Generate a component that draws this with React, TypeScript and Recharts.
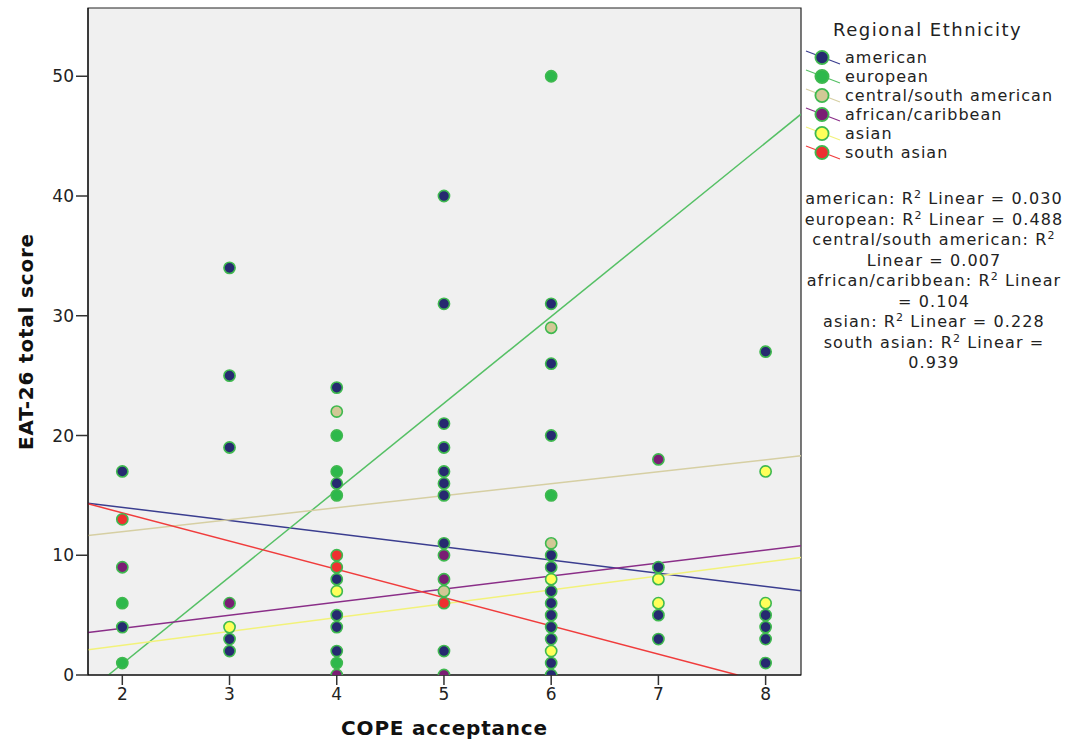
import {
  ComposedChart,
  Scatter,
  XAxis,
  YAxis,
  ReferenceArea,
  ReferenceLine,
} from 'recharts';

type Pt = { x: number; y: number };

// Visible points (COPE acceptance, EAT-26 total score)
const american: Pt[] = [
  { x: 2, y: 17 }, { x: 2, y: 4 },
  { x: 3, y: 34 }, { x: 3, y: 25 }, { x: 3, y: 19 }, { x: 3, y: 3 }, { x: 3, y: 2 },
  { x: 4, y: 24 }, { x: 4, y: 16 }, { x: 4, y: 8 }, { x: 4, y: 5 }, { x: 4, y: 4 }, { x: 4, y: 2 },
  { x: 5, y: 40 }, { x: 5, y: 31 }, { x: 5, y: 21 }, { x: 5, y: 19 }, { x: 5, y: 17 },
  { x: 5, y: 16 }, { x: 5, y: 15 }, { x: 5, y: 11 }, { x: 5, y: 2 },
  { x: 6, y: 31 }, { x: 6, y: 26 }, { x: 6, y: 20 }, { x: 6, y: 10 }, { x: 6, y: 9 },
  { x: 6, y: 7 }, { x: 6, y: 6 }, { x: 6, y: 5 }, { x: 6, y: 4 }, { x: 6, y: 3 },
  { x: 6, y: 1 }, { x: 6, y: 0 },
  { x: 7, y: 9 }, { x: 7, y: 5 }, { x: 7, y: 3 },
  { x: 8, y: 27 }, { x: 8, y: 5 }, { x: 8, y: 4 }, { x: 8, y: 3 }, { x: 8, y: 1 },
];
const european: Pt[] = [
  { x: 2, y: 6 }, { x: 2, y: 1 },
  { x: 4, y: 20 }, { x: 4, y: 17 }, { x: 4, y: 15 }, { x: 4, y: 1 },
  { x: 6, y: 50 }, { x: 6, y: 15 },
];
const centralSouthAmerican: Pt[] = [
  { x: 4, y: 22 }, { x: 5, y: 7 }, { x: 6, y: 29 }, { x: 6, y: 11 },
];
const africanCaribbean: Pt[] = [
  { x: 2, y: 9 }, { x: 3, y: 6 }, { x: 4, y: 0 }, { x: 5, y: 10 }, { x: 5, y: 8 },
  { x: 5, y: 0 }, { x: 7, y: 18 },
];
const asian: Pt[] = [
  { x: 3, y: 4 }, { x: 4, y: 7 }, { x: 6, y: 8 }, { x: 6, y: 2 }, { x: 7, y: 8 },
  { x: 7, y: 6 }, { x: 8, y: 17 }, { x: 8, y: 6 },
];
const southAsian: Pt[] = [
  { x: 2, y: 13 }, { x: 4, y: 10 }, { x: 4, y: 9 }, { x: 5, y: 6 },
];

const groupNames = [
  'american',
  'european',
  'central/south american',
  'african/caribbean',
  'asian',
  'south asian',
];
const groupData = [american, european, centralSouthAmerican, africanCaribbean, asian, southAsian];
// fit line intercept / slope
const fitIntercepts = [16.2, -13.56, 9.97, 1.72, 0.15, 18.26];
const fitSlopes = [-1.1, 7.25, 1.0, 1.09, 1.16, -2.36];
const rSquared = ['0.030', '0.488', '0.007', '0.104', '0.228', '0.939'];

const fillColors = ['#262a70', '#2db84b', '#d2c896', '#7a1e74', '#ffff5a', '#ee3030'];
const lineColors = ['#3a3d8f', '#55c065', '#d6cfa3', '#8a2e88', '#f2f27a', '#f03c3c'];
const OUTLINE = '#3fb94f';

const xTicks = [2, 3, 4, 5, 6, 7, 8];
const yTicks = [0, 10, 20, 30, 40, 50];
const X_MIN = 1.68;
const X_MAX = 8.33;
const Y_MAX = 55.7;

const FONT = '"DejaVu Sans", Verdana, sans-serif';

function fitSegment(a: number, b: number) {
  let x1 = X_MIN;
  let x2 = X_MAX;
  // clip to y >= 0
  if (a + b * x1 < 0) x1 = -a / b;
  if (a + b * x2 < 0) x2 = -a / b;
  return [
    { x: x1, y: a + b * x1 },
    { x: x2, y: a + b * x2 },
  ];
}

function Dot(color: string) {
  return (props: any) => (
    <circle cx={props.cx} cy={props.cy} r={5.6} fill={color} stroke={OUTLINE} strokeWidth={1.6} />
  );
}

function LegendPanel() {
  return (
    <div style={{ position: 'absolute', left: 804, top: 16, width: 266, fontFamily: FONT, color: '#222' }}>
      <div style={{ fontSize: 18, letterSpacing: 1.5, marginLeft: 29, height: 32, lineHeight: '28px' }}>
        Regional Ethnicity
      </div>
      {groupNames.map((name, i) => (
        <div key={name} style={{ display: 'flex', alignItems: 'center', height: 19, fontSize: 16, letterSpacing: 1 }}>
          <svg width={40} height={19} style={{ flex: 'none' }}>
            <line x1={2} y1={3} x2={36} y2={16} stroke={lineColors[i]} strokeWidth={1.2} />
            <circle cx={18} cy={9.5} r={6.6} fill={fillColors[i]} stroke={OUTLINE} strokeWidth={1.8} />
          </svg>
          <span style={{ marginLeft: 1 }}>{name}</span>
        </div>
      ))}
      <div
        style={{
          marginTop: 27,
          fontSize: 16,
          letterSpacing: 1.1,
          lineHeight: '20.5px',
          textAlign: 'center',
          width: 264,
          marginLeft: -2,
        }}
      >
        {groupNames.map((name, i) => (
          <div key={name}>
            {name}: R
            <span style={{ fontSize: 11, position: 'relative', top: -6, lineHeight: '11px' }}>2</span> Linear ={' '}
            {rSquared[i]}
          </div>
        ))}
      </div>
    </div>
  );
}

export default function App() {
  return (
    <div style={{ position: 'absolute', left: 0, top: 0, width: 1070, height: 744, background: '#fff' }}>
      <ComposedChart
        width={1070}
        height={744}
        margin={{ top: 8, right: 269, bottom: 39, left: 28 }}
      >
        <XAxis
          type="number"
          dataKey="x"
          domain={[X_MIN, X_MAX]}
          ticks={xTicks}
          allowDataOverflow
          height={30}
          tickSize={10}
          tickMargin={3}
          axisLine={{ stroke: '#000' }}
          tickLine={{ stroke: '#333', strokeWidth: 1.5 }}
          tick={{ fontSize: 17, fill: '#222', fontFamily: FONT }}
          label={{
            content: ({ viewBox }: any) => (
              <text
                x={viewBox.x + viewBox.width / 2}
                y={735}
                textAnchor="middle"
                fontFamily={FONT}
                fontWeight="bold"
                fontSize={20}
                letterSpacing={0.8}
                fill="#111"
              >
                COPE acceptance
              </text>
            ),
          }}
        />
        <YAxis
          type="number"
          dataKey="y"
          domain={[0, Y_MAX]}
          ticks={yTicks}
          allowDataOverflow
          width={60}
          tickSize={12}
          tickMargin={2}
          axisLine={{ stroke: '#000' }}
          tickLine={{ stroke: '#333', strokeWidth: 1.5 }}
          tick={{ fontSize: 17, fill: '#222', fontFamily: FONT }}
          label={{
            content: ({ viewBox }: any) => {
              const cx = 33;
              const cy = viewBox.y + viewBox.height / 2;
              return (
                <text
                  x={cx}
                  y={cy}
                  transform={`rotate(-90 ${cx} ${cy})`}
                  textAnchor="middle"
                  fontFamily={FONT}
                  fontWeight="bold"
                  fontSize={20}
                  letterSpacing={0.8}
                  fill="#111"
                >
                  EAT-26 total score
                </text>
              );
            },
          }}
        />
        <ReferenceArea
          x1={X_MIN}
          x2={X_MAX}
          y1={0}
          y2={Y_MAX}
          fill="#f0f0f0"
          fillOpacity={1}
          stroke="#222"
          strokeWidth={1.2}
          ifOverflow="visible"
        />
        {groupData.map((data, i) => (
          <Scatter
            key={groupNames[i]}
            name={groupNames[i]}
            data={data}
            shape={Dot(fillColors[i])}
            isAnimationActive={false}
          />
        ))}
        {groupNames.map((name, i) => (
          <ReferenceLine
            key={`fit-${name}`}
            segment={fitSegment(fitIntercepts[i], fitSlopes[i])}
            stroke={lineColors[i]}
            strokeWidth={1.5}
            ifOverflow="hidden"
          />
        ))}
      </ComposedChart>
      <LegendPanel />
    </div>
  );
}
